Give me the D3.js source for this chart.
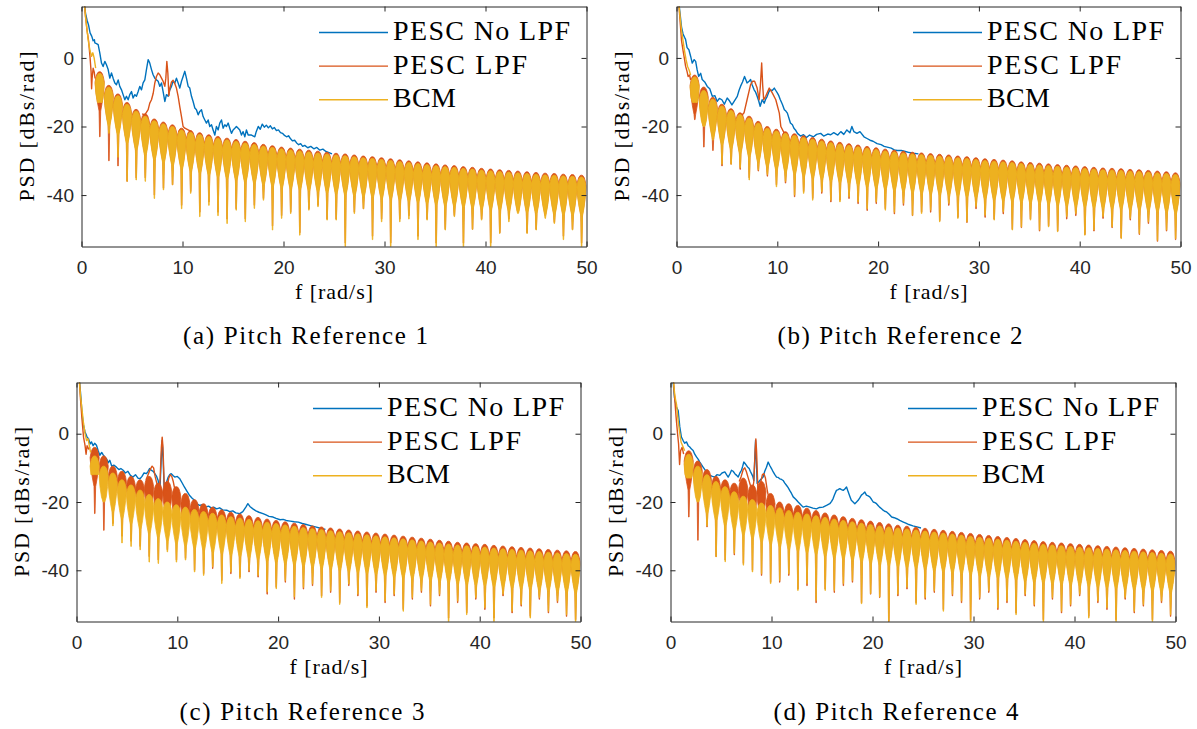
<!DOCTYPE html>
<html>
<head>
<meta charset="utf-8">
<script src="https://cdn.jsdelivr.net/npm/d3@7"></script>
<style>
  body { margin: 0; background: #fff; }
  svg { display: block; }
</style>
</head>
<body>
<svg id="chart" width="1197" height="729"></svg>
<script>
// ---------- axis ticks, names ----------
const FREQ_TICKS = [0, 10, 20, 30, 40, 50];
const PSD_TICKS = [-40, -20, 0];
const SERIES_NAMES = ["PESC No LPF", "PESC LPF", "BCM"];
const CAPTIONS = ["(a) Pitch Reference 1", "(b) Pitch Reference 2", "(c) Pitch Reference 3", "(d) Pitch Reference 4"];

// harmonic lines of the periodic pitch reference [rad/s]
const HARM = [0.9, 1.8, 2.7, 3.6, 4.5, 5.4, 6.3, 7.2, 8.1, 9.0, 9.9, 10.8, 11.7, 12.6, 13.5, 14.4, 15.3, 16.2, 17.1, 18.0,
  18.9, 19.8, 20.7, 21.6, 22.5, 23.4, 24.3, 25.2, 26.1, 27.0, 27.9, 28.8, 29.7, 30.6, 31.5, 32.4, 33.3, 34.2, 35.1, 36.0,
  36.9, 37.8, 38.7, 39.6, 40.5, 41.4, 42.3, 43.2, 44.1, 45.0, 45.9, 46.8, 47.7, 48.6, 49.5];

// ---------- (a) Pitch Reference 1 ----------
const blueA = [[0.25,17],[0.4,13],[0.55,11],[0.69,9.7],[0.85,7.3],[1.02,6.3],[1.15,5],[1.28,5.3],[1.32,4.4],[1.48,4.2],[1.65,3.9],[1.81,1.5],[1.98,-1.5],[2.14,-2.5],[2.31,-1.0],[2.47,-2.0],[2.64,-3.4],[2.80,-5.9],[2.97,-4.4],[3.13,-5.9],[3.30,-7.3],[3.46,-7.8],[3.63,-6.4],[3.79,-8.3],[3.96,-9.3],[4.12,-10.7],[4.29,-12.2],[4.45,-11.2],[4.62,-12.2],[4.78,-10.7],[4.95,-9.8],[5.11,-11.7],[5.28,-10.7],[5.44,-11.2],[5.61,-9.8],[5.77,-8.3],[5.94,-9.3],[6.10,-7.3],[6.27,-6.4],[6.43,-3.4],[6.60,-0.5],[6.76,-1.5],[6.93,-3.4],[7.09,-4.9],[7.26,-5.9],[7.42,-6.4],[7.59,-6.8],[7.75,-8.3],[7.92,-7.3],[8.08,-9.8],[8.25,-12.7],[8.41,-10.7],[8.58,-11.2],[8.74,-9.3],[8.91,-8.3],[9.07,-6.8],[9.24,-7.3],[9.40,-5.9],[9.57,-7.3],[9.73,-8.8],[9.90,-6.8],[10.06,-5.4],[10.23,-3.9],[10.39,-5.9],[10.56,-8.3],[10.72,-8.8],[10.89,-11.2],[11.05,-12.7],[11.22,-14.6],[11.38,-15.1],[11.55,-16.6],[11.71,-15.6],[11.88,-15.1],[12.04,-17.1],[12.21,-18.1],[12.37,-19.0],[12.54,-18.1],[12.70,-20.0],[12.87,-19.5],[13.03,-21.0],[13.20,-22.5],[13.36,-20.0],[13.53,-21.0],[13.69,-19.0],[13.86,-18.1],[14.02,-20.5],[14.19,-19.5],[14.35,-20.0],[14.52,-19.0],[14.68,-20.5],[14.85,-22.0],[15.01,-21.0],[15.18,-20.5],[15.34,-20.0],[15.51,-20.5],[15.67,-21.0],[15.84,-22.5],[16.00,-21.5],[16.17,-23.0],[16.33,-21.0],[16.50,-22.5],[16.83,-22.5],[17.16,-23.0],[17.3,-21.5],[17.5,-20],[17.7,-20.8],[17.9,-19.3],[18.1,-20.2],[18.3,-19.6],[18.5,-20.4],[18.7,-19.8],[18.9,-20.7],[19.1,-20.3],[19.3,-21.2],[19.5,-21],[19.7,-21.8],[19.9,-22],[20.1,-22.6],[20.3,-23],[20.5,-22.7],[20.7,-23.6],[20.9,-24.2],[21.1,-24],[21.3,-24.8],[21.5,-25.3],[21.7,-25],[21.9,-25.8],[22.1,-25.5],[22.4,-26.2],[22.7,-25.8],[23.0,-26.5],[23.3,-26.1],[23.6,-26.9],[23.9,-26.6],[24.2,-27.3],[24.5,-27.6],[24.8,-28]];
const redHeadA = [[0.25,17],[0.4,12],[0.55,8],[0.7,5],[0.85,0],[0.95,-4],[1.0,-9],[1.05,-6],[1.15,-3],[1.25,-4],[1.35,-6]];
const redLineA = [[6.0,-16.3],[6.27,-16.6],[6.6,-15.1],[6.76,-13.2],[6.93,-12.2],[7.1,-10.3],[7.26,-7.3],[7.42,-5.4],[7.59,-4.4],[7.75,-4.9],[7.92,-5.9],[8.08,-6.8],[8.25,-8.3],[8.35,-5.9],[8.45,-1],[8.55,-4.4],[8.65,-11],[8.74,-9],[8.91,-7],[9.07,-6.5],[9.24,-7.5],[9.4,-8.8],[9.57,-11.2],[9.73,-14.2],[9.9,-17.1],[10.06,-20],[10.23,-20.5],[10.56,-21],[10.9,-21.5]];
const redTopA = [null,-4,-8,-10.5,-13,-15,-16.3,-17.8,-18.7,-19.5,-20.5,-21.2,-21.8,-22.4,-22.9,-23.4,-23.8,-24.3,-24.7,-25.2,-25.6,-26,-26.3,-26.6,-26.9,-27.2,-27.5,-27.8,-28,-28.3,-28.6,-28.8,-29.1,-29.4,-29.7,-30,-30.3,-30.6,-30.9,-31.2,-31.4,-31.7,-31.9,-32.2,-32.4,-32.6,-32.8,-33,-33.2,-33.4,-33.6,-33.7,-33.9,-34,-34.2];
const redDipA = [null,-23,-30,-31.5,-36,-35,-35,-40,-38,-37,-43,-39,-45,-42,-45,-47,-44,-47,-43,-41,-49,-46,-45,-51,-44,-43,-47,-47,-54,-45,-44,-52,-47,-54,-47,-46,-52,-47,-54,-50,-46,-54,-50,-47,-54,-51,-47,-45,-51,-50,-46,-48,-52,-50,-54];
const bcmHeadA = [[0.25,17],[0.4,12],[0.55,8],[0.7,4.5],[0.85,2],[1.0,0.5],[1.12,1.5],[1.25,0],[1.4,-3]];
const bcmTopA = [null,-4.5,-8.5,-11,-13.5,-15.5,-17,-18.3,-19.2,-20,-21,-21.7,-22.3,-22.9,-23.4,-23.9,-24.3,-24.8,-25.2,-25.7,-26.1,-26.5,-26.8,-27.1,-27.4,-27.7,-28,-28.3,-28.5,-28.8,-29.1,-29.3,-29.6,-29.9,-30.2,-30.5,-30.8,-31.1,-31.4,-31.7,-31.9,-32.2,-32.4,-32.7,-32.9,-33.1,-33.3,-33.5,-33.7,-33.9,-34.1,-34.2,-34.4,-34.5,-34.7];
const bcmDipA = [null,-13,-22,-29,-36,-35.6,-36,-41,-38.5,-37,-44,-39.5,-46.3,-43,-46,-48.3,-44.4,-47.8,-43.9,-41.5,-50.2,-46.8,-45.4,-51.7,-44.4,-43.4,-47.3,-47.3,-56,-45.4,-44,-53,-47.8,-56,-47.8,-47,-53,-47.3,-56,-50.2,-46.3,-56,-50,-47.3,-56,-51.2,-47.8,-45.4,-51.2,-50.2,-46.8,-48.3,-53,-50.2,-56];

// ---------- (b) Pitch Reference 2 ----------
const blueB = [[0.2,17],[0.35,13],[0.5,9],[0.65,7],[0.8,6],[0.9,5.4],[1.05,3],[1.23,2.4],[1.4,0.5],[1.56,-1.5],[1.75,-0.5],[1.9,-1],[2.05,-3.5],[2.2,-5.4],[2.4,-4.5],[2.55,-6.3],[2.8,-7],[3.05,-8.3],[3.3,-9],[3.55,-11.2],[3.8,-11],[4.04,-12.7],[4.25,-11.8],[4.5,-12.2],[4.75,-13.5],[5.03,-11.7],[5.25,-12.5],[5.5,-13.7],[5.75,-12.5],[6.03,-11.2],[6.2,-9.5],[6.35,-8.3],[6.55,-7],[6.75,-5.4],[6.9,-6.5],[7.0,-7.3],[7.2,-6.8],[7.35,-6.3],[7.5,-7.8],[7.7,-9.3],[7.85,-10],[8.0,-11.2],[8.15,-12.5],[8.3,-14.1],[8.5,-12.2],[8.7,-13.2],[8.85,-12],[9.0,-11.2],[9.15,-10],[9.3,-9.3],[9.5,-9.5],[9.7,-8.8],[9.85,-9.5],[10.0,-10.2],[10.15,-11],[10.3,-12.2],[10.5,-13.5],[10.7,-15.1],[10.85,-15.5],[11.0,-16.1],[11.15,-17.5],[11.3,-19],[11.5,-19.5],[11.65,-20.5],[11.8,-21],[12.0,-22],[12.3,-22.8],[12.6,-22.4],[12.9,-23.2],[13.2,-22.5],[13.6,-23],[13.9,-22.3],[14.3,-22],[14.6,-22.8],[15.0,-22.2],[15.3,-22.4],[15.6,-21.8],[16.0,-22.5],[16.3,-21.5],[16.6,-22.3],[16.9,-21],[17.2,-21.8],[17.4,-20],[17.6,-21.5],[17.9,-22],[18.2,-21.5],[18.6,-23],[18.9,-23.5],[19.2,-24],[19.5,-24.3],[19.9,-25],[20.3,-25.3],[20.6,-25.8],[20.9,-26],[21.3,-26.3],[21.6,-26.8],[21.9,-27],[22.3,-27],[22.7,-27.3],[23.1,-27.6],[23.5,-27.8],[24,-28]];
const redHeadB = [[0.2,17],[0.35,11],[0.5,5],[0.66,2],[0.8,-0.5],[0.9,-2.4],[1.05,-4],[1.15,-5.4],[1.3,-5],[1.4,-6.5]];
const redLineB = [[6.4,-17],[6.7,-16],[7.0,-12.2],[7.35,-7.8],[7.55,-6.8],[7.75,-6.8],[8.0,-8.8],[8.2,-12.2],[8.3,-9],[8.45,-1.5],[8.55,-8],[8.65,-12.2],[8.85,-11.2],[9.2,-8.8],[9.5,-10.2],[9.85,-12.2],[10.2,-16.1],[10.35,-20],[10.7,-22]];
const redTopB = [null,-5,-8.5,-11.5,-13.5,-14.8,-16,-17,-18.5,-20,-20.8,-21.5,-22.1,-22.7,-23.2,-23.7,-24.2,-24.6,-25,-25.4,-25.8,-26.2,-26.6,-26.9,-27.2,-27.5,-27.7,-27.9,-28.1,-28.3,-28.6,-28.8,-29.1,-29.4,-29.6,-29.8,-30,-30.3,-30.5,-30.7,-30.9,-31.1,-31.3,-31.5,-31.7,-31.9,-32.1,-32.2,-32.3,-32.5,-32.6,-32.8,-33,-33.2,-33.5];
const redDipB = [null,-18,-26,-27,-31.5,-31,-32.5,-35,-33,-34.5,-37,-36.5,-40.5,-39,-41,-39.5,-42,-41.5,-41,-42.5,-44.5,-42.5,-44,-45.5,-43,-46,-45,-45,-47.5,-43,-46.5,-48,-44,-46.5,-47,-45.5,-50,-49.5,-47,-50.5,-49,-50.5,-47,-46,-51.5,-50.5,-46.8,-49.5,-52.5,-47.3,-51.5,-48.3,-53.5,-50.5,-53];
const bcmHeadB = [[0.2,17],[0.35,12],[0.5,8],[0.65,5],[0.8,2],[0.95,-0.5],[1.1,-2.5],[1.25,-3.5],[1.4,-5]];
const bcmTopB = [null,-5.5,-9.5,-12,-14,-15.3,-16.5,-17.5,-19,-20.5,-21.3,-22,-22.6,-23.2,-23.7,-24.2,-24.7,-25.1,-25.5,-25.9,-26.3,-26.7,-27.1,-27.4,-27.7,-28,-28.2,-28.4,-28.6,-28.8,-29.1,-29.3,-29.6,-29.9,-30.1,-30.3,-30.5,-30.8,-31,-31.2,-31.4,-31.6,-31.8,-32,-32.2,-32.4,-32.6,-32.7,-32.8,-33,-33.1,-33.3,-33.5,-33.7,-34];
const bcmDipB = [null,-13,-20,-24,-31,-31,-32,-35.6,-32.7,-34,-37.6,-36,-40,-39.5,-41.5,-39,-41.5,-42,-40.5,-42,-44,-42,-44.4,-45,-42.4,-45.9,-45.4,-44.4,-47.8,-42.4,-46.8,-47.8,-43.4,-45.9,-47.3,-44.9,-50.2,-49.3,-47.3,-50.2,-49.3,-50.7,-46.3,-45.4,-51.7,-50.2,-46.3,-49.3,-52.7,-46.8,-51.2,-47.8,-53.2,-50.2,-52.7];

// ---------- (c) Pitch Reference 3 ----------
const blueC = [[0.25,17],[0.4,12],[0.55,6],[0.66,2.9],[0.85,0.5],[1.05,-1],[1.2,-1.5],[1.35,-3],[1.48,-2.4],[1.65,-3.5],[1.8,-2.8],[1.98,-3.4],[2.15,-5],[2.31,-6.3],[2.5,-5.5],[2.65,-6.2],[2.8,-6.8],[3.0,-7.5],[3.15,-8.5],[3.3,-7.8],[3.5,-9.5],[3.7,-9.2],[3.96,-9.8],[4.2,-10.5],[4.4,-10.2],[4.63,-10.7],[4.85,-11.5],[5.1,-11],[5.35,-12.2],[5.6,-12.7],[5.85,-12],[6.1,-13],[6.3,-13.2],[6.5,-12.5],[6.7,-11.5],[6.94,-11.7],[7.1,-11],[7.25,-10.2],[7.4,-10.7],[7.6,-11],[7.77,-11.7],[7.95,-12.5],[8.1,-13.7],[8.26,-17.6],[8.4,-8],[8.5,-2],[8.6,-8],[8.7,-16.6],[8.9,-14.5],[9.1,-12.7],[9.25,-12],[9.4,-11.7],[9.6,-12.3],[9.75,-12.7],[10.0,-12.5],[10.25,-13.2],[10.5,-14.5],[10.7,-15.6],[10.95,-16.8],[11.2,-18],[11.45,-18.8],[11.7,-19.5],[11.95,-20.5],[12.2,-21],[12.5,-20.8],[12.8,-21.5],[13.1,-21.2],[13.4,-21.8],[13.6,-21.5],[13.9,-22],[14.2,-21.7],[14.5,-22.3],[14.9,-22.4],[15.2,-22.8],[15.5,-22.6],[15.8,-23.2],[16.2,-23.4],[16.5,-22.8],[16.8,-21.5],[17.0,-20.5],[17.2,-21.3],[17.5,-22],[17.8,-22.6],[18.1,-23],[18.5,-23.4],[18.8,-23.8],[19.1,-24.2],[19.5,-24.4],[19.8,-24.8],[20.2,-25.2],[20.5,-25.1],[20.8,-25.4],[21.2,-25.6],[21.6,-25.8],[22.0,-25.9],[22.4,-26.3],[22.8,-26.6],[23.2,-26.9],[23.7,-27.3],[24.2,-27.7],[24.7,-28]];
const redHeadC = [[0.25,17],[0.4,10],[0.55,4],[0.7,-1],[0.85,-3.5],[0.95,-6],[1.05,-3.5],[1.2,-4.5],[1.35,-4]];
const redLineC = [[6.9,-13.5],[7.1,-12],[7.3,-10.5],[7.5,-9.5],[7.65,-10],[7.8,-12.5],[8.0,-15],[8.15,-18],[8.3,-13],[8.42,-4],[8.5,-1],[8.58,-4],[8.7,-15],[8.85,-18],[9.0,-16],[9.15,-13],[9.3,-12],[9.45,-12.5],[9.6,-14],[9.8,-17],[10.0,-18.5],[10.3,-19]];
const redTopC = [null,-4,-6.5,-9.5,-11,-12.5,-13.5,-12.5,-14.5,-14,-15.5,-17.5,-19.3,-20.5,-21.5,-22.3,-23,-23.5,-24,-24.5,-25,-25.4,-25.8,-26.2,-26.6,-27,-27.3,-27.6,-27.9,-28.2,-28.5,-28.8,-29.1,-29.4,-29.7,-30,-30.3,-30.6,-30.9,-31.2,-31.5,-31.8,-32,-32.2,-32.4,-32.7,-32.9,-33.1,-33.3,-33.5,-33.7,-33.9,-34.1,-34.3,-34.5];
const redDipC = [null,-23.4,-28.3,-26.3,-30,-31.5,-33,-36,-37,-34,-37,-36.5,-40,-41,-39.5,-43,-41,-42,-40.5,-42,-47,-45,-43.5,-48.5,-45.5,-44.5,-47.5,-46.5,-49.5,-44.5,-47.5,-50.5,-46.5,-49.5,-47.5,-51.5,-48.5,-46.5,-50.5,-47.5,-54,-49.5,-52.5,-48.5,-51.5,-54,-47.5,-52.5,-50.5,-53.5,-48.5,-52.5,-49.5,-53.5,-54.5];
const bcmHeadC = [[0.25,17],[0.4,11],[0.55,7],[0.7,3],[0.85,0],[1.0,-2],[1.15,-1.5],[1.3,-4],[1.4,-5.5]];
const bcmTopC = [null,-6.5,-9.5,-11.5,-13.5,-15,-16.5,-17.8,-19,-20,-20.8,-21.5,-22.2,-22.8,-23.3,-23.8,-24.3,-24.7,-25.1,-25.5,-25.9,-26.3,-26.7,-27.1,-27.5,-27.8,-28.1,-28.4,-28.7,-29,-29.3,-29.6,-29.9,-30.2,-30.5,-30.8,-31.1,-31.4,-31.7,-32,-32.3,-32.6,-32.8,-33,-33.2,-33.5,-33.7,-33.9,-34.1,-34.3,-34.5,-34.7,-34.9,-35.1,-35.3];
const bcmDipC = [null,-12,-20,-27,-32,-33,-34,-37.6,-38,-34.6,-37.6,-37,-40.5,-41.5,-39,-43.9,-40.5,-42.4,-40,-41.5,-46.3,-45.4,-43,-47.8,-45,-44,-48,-46,-50,-44,-47,-51,-46,-49,-47,-52,-48,-46,-50,-47,-56,-49,-53,-48,-51,-56,-47,-52,-50,-54,-48,-52,-49,-53,-56];

// ---------- (d) Pitch Reference 4 ----------
const blueD = [[0.2,17],[0.4,10.5],[0.59,7.8],[0.76,6.8],[0.92,2],[1.08,-1],[1.25,-2],[1.4,-2.8],[1.58,-2.4],[1.75,-3.5],[1.91,-3.9],[2.08,-4.5],[2.24,-4.9],[2.4,-6],[2.57,-6.8],[2.75,-7.5],[2.9,-8.3],[3.05,-9],[3.23,-9.8],[3.4,-10.5],[3.56,-11.2],[3.72,-11.8],[3.9,-12.2],[4.15,-12.5],[4.39,-12.7],[4.6,-12],[4.88,-12.2],[5.1,-11.5],[5.38,-11.2],[5.55,-12],[5.71,-12.7],[5.88,-11.8],[6.04,-10.7],[6.2,-11],[6.37,-11.7],[6.55,-12.2],[6.7,-12.7],[6.87,-11.5],[7.03,-10.7],[7.15,-9.5],[7.26,-8.3],[7.4,-8.8],[7.52,-9.3],[7.65,-9.8],[7.79,-10.2],[7.9,-11],[8.02,-11.7],[8.15,-12.5],[8.25,-13.7],[8.35,-7],[8.42,-2],[8.5,-8],[8.58,-14.6],[8.7,-14.2],[8.84,-13.7],[9.0,-13.2],[9.17,-12.7],[9.33,-11],[9.5,-9.8],[9.67,-8.3],[9.83,-9.3],[10.0,-10.2],[10.17,-11.2],[10.33,-12],[10.5,-12.7],[10.66,-12.8],[10.82,-13.2],[11.0,-13.4],[11.15,-13.7],[11.3,-14.4],[11.48,-15.1],[11.65,-15.8],[11.8,-16.6],[11.98,-17.5],[12.15,-18.5],[12.4,-19.2],[12.64,-20],[12.9,-20.8],[13.13,-21.5],[13.45,-21.2],[13.8,-21.5],[14.1,-21.8],[14.45,-22],[14.75,-21.6],[15.1,-21.5],[15.45,-21],[15.77,-20.5],[15.95,-19.8],[16.1,-19],[16.25,-17.8],[16.43,-16.6],[16.6,-16.4],[16.76,-16.1],[16.93,-16.4],[17.1,-16.6],[17.26,-16.2],[17.43,-15.6],[17.6,-17.1],[17.75,-18.3],[17.9,-19.5],[18.08,-20],[18.25,-20.5],[18.42,-20],[18.58,-19.5],[18.74,-18.8],[18.9,-18],[19.07,-17.6],[19.24,-17.1],[19.4,-18],[19.57,-18.2],[19.73,-18.5],[19.9,-19.2],[20.07,-20],[20.24,-20.2],[20.4,-20.5],[20.55,-21],[20.7,-21.5],[20.9,-22],[21.05,-22.4],[21.2,-22.7],[21.4,-22.9],[21.65,-23.6],[21.9,-24.4],[22.15,-24.6],[22.4,-24.9],[22.7,-25.4],[23.0,-25.8],[23.3,-26.2],[23.6,-26.6],[24.0,-27],[24.4,-27.3],[24.8,-27.6]];
const redHeadD = [[0.25,17],[0.4,11],[0.55,5],[0.7,0],[0.8,-3],[0.9,-9],[1.0,-5],[1.15,-4],[1.3,-6]];
const redLineD = [[6.8,-14],[7.0,-12.5],[7.2,-10.5],[7.35,-10],[7.5,-11],[7.7,-13],[7.9,-15],[8.1,-17],[8.25,-14],[8.38,-5],[8.45,-1.5],[8.52,-5],[8.65,-16],[8.8,-18],[8.95,-14],[9.1,-12],[9.25,-11.7],[9.4,-13],[9.6,-17],[9.8,-19.5],[10.0,-20]];
const redTopD = [null,-5,-8,-10.5,-12.5,-13.5,-14.5,-13,-15,-14,-17.5,-20,-20.5,-21,-21.8,-22.5,-23.2,-23.8,-24.3,-24.8,-25.2,-25.6,-26,-26.4,-26.8,-27.1,-27.4,-27.7,-28,-28.3,-28.6,-28.9,-29.2,-29.5,-29.8,-30.1,-30.4,-30.7,-31,-31.3,-31.6,-31.8,-32,-32.2,-32.4,-32.6,-32.8,-33,-33.2,-33.4,-33.6,-33.8,-34,-34.2,-34.4];
const redDipD = [null,-24.4,-31.2,-27.3,-36,-37,-35.5,-38,-40,-41.5,-43.5,-43.5,-41.5,-45.5,-44.5,-49.5,-45.5,-46.5,-44.5,-43.5,-49.5,-47,-48,-56,-47.5,-45.5,-49.5,-48.5,-46.5,-51.5,-47.5,-49.5,-54.5,-48.5,-46.5,-51.5,-49.5,-52.5,-47.5,-50.5,-54.5,-48.5,-52.5,-50.5,-47.5,-53.5,-49.5,-51.5,-54.5,-48.5,-52.5,-50.5,-54.5,-49.5,-53.5];
const bcmHeadD = [[0.25,17],[0.4,12],[0.5,10],[0.6,8.5],[0.75,4],[0.9,0.5],[1.05,-2.5],[1.2,-3.5],[1.4,-5]];
const bcmTopD = [null,-6,-9.5,-12,-14,-15.5,-17,-18.3,-19.3,-20.3,-21,-21.7,-22.5,-23,-23.5,-24,-24.5,-25,-25.4,-25.8,-26.2,-26.6,-27,-27.3,-27.6,-27.9,-28.2,-28.5,-28.8,-29.1,-29.4,-29.7,-30,-30.3,-30.6,-30.9,-31.2,-31.5,-31.8,-32.1,-32.4,-32.6,-32.8,-33,-33.2,-33.4,-33.6,-33.8,-34,-34.2,-34.4,-34.6,-34.8,-35,-35.2];
const bcmDipD = [null,-13,-20,-27,-36,-37.5,-35,-38.5,-40.5,-41,-43.9,-43,-41,-45.9,-43.9,-48.8,-45.9,-45.9,-43.9,-43,-49.8,-46.8,-47.8,-56,-47,-45,-50,-48,-46,-52,-47,-49,-56,-48,-46,-51,-49,-53,-47,-50,-56,-48,-52,-50,-47,-54,-49,-51,-56,-48,-52,-50,-56,-49,-53];

// ---------- styling & layout ----------
const COLORS = { blue: "#0072BD", red: "#D95319", yellow: "#EDB120" };
const AXIS_COLOR = "#262626";
const SERIF = "'Liberation Serif', 'Times New Roman', serif";
const SANS = "'Liberation Sans', Arial, Helvetica, sans-serif";

const LAYOUT = [
  { x0: 81.5,  x1: 586.5,  top: 6.5,   bottom: 246.5, capX: 305.5, capY: 344 },
  { x0: 676.5, x1: 1180.5, top: 6.5,   bottom: 246.5, capX: 900,   capY: 344 },
  { x0: 76.5,  x1: 580.5,  top: 382.5, bottom: 621.5, capX: 302,   capY: 720 },
  { x0: 670.5, x1: 1175.5, top: 382.5, bottom: 621.5, capX: 896,   capY: 720 }
];

const PANELS = [
  { blue: blueA, redHead: redHeadA, redLine: redLineA, redTop: redTopA, redDip: redDipA, bcmHead: bcmHeadA, bcmTop: bcmTopA, bcmDip: bcmDipA },
  { blue: blueB, redHead: redHeadB, redLine: redLineB, redTop: redTopB, redDip: redDipB, bcmHead: bcmHeadB, bcmTop: bcmTopB, bcmDip: bcmDipB },
  { blue: blueC, redHead: redHeadC, redLine: redLineC, redTop: redTopC, redDip: redDipC, bcmHead: bcmHeadC, bcmTop: bcmTopC, bcmDip: bcmDipC },
  { blue: blueD, redHead: redHeadD, redLine: redLineD, redTop: redTopD, redDip: redDipD, bcmHead: bcmHeadD, bcmTop: bcmTopD, bcmDip: bcmDipD }
];

const svg = d3.select("#chart");

// One lobe of the comb spectrum around a harmonic: rounded crest at `top`,
// a dense body a few dB deep, then a narrow notch down to `dip`.
function lobeOutline(fc, top, dip) {
  const depth = top - dip;
  const d = v => Math.min(v, depth);
  return [
    [fc - 0.45, top - 3.0], [fc - 0.38, top - 1.8], [fc - 0.27, top - 0.7], [fc - 0.13, top - 0.1], [fc, top],
    [fc + 0.13, top - 0.1], [fc + 0.27, top - 0.7], [fc + 0.38, top - 1.8], [fc + 0.45, top - 3.0],
    [fc + 0.38, top - d(6)], [fc + 0.25, top - d(9)], [fc + 0.1, top - d(11.5)], [fc + 0.04, dip], [fc - 0.01, dip],
    [fc - 0.06, top - d(11.5)], [fc - 0.22, top - d(9)], [fc - 0.37, top - d(6)]
  ];
}

function drawComb(g, x, y, tops, dips, color) {
  const poly = d3.line().x(p => x(p[0])).y(p => y(p[1]));
  const d = HARM.map((fc, i) => {
    if (tops[i] == null || dips[i] == null) return "";
    return poly(lobeOutline(fc, tops[i], dips[i])) + "Z";
  }).join("");
  g.append("path")
    .attr("d", d)
    .attr("fill", color)
    .attr("stroke", color)
    .attr("stroke-width", 0.8)
    .attr("stroke-linejoin", "round");
}

function drawTrace(g, line, pts, color) {
  g.append("path")
    .attr("d", line(pts))
    .attr("fill", "none")
    .attr("stroke", color)
    .attr("stroke-width", 1.4)
    .attr("stroke-linejoin", "round");
}

// serif label fitted to a given width by letter spacing
function serifText(sel, str, size, width) {
  return sel.attr("textLength", width).attr("lengthAdjust", "spacing")
    .style("font-family", SERIF).style("font-size", size + "px").attr("fill", "#000")
    .text(str);
}

function drawPanel(L, D, caption, idx) {
  const x = d3.scaleLinear().domain([0, 50]).range([L.x0, L.x1]);
  const y = d3.scaleLinear().domain([-55, 15]).range([L.bottom, L.top]);
  const line = d3.line().x(p => x(p[0])).y(p => y(p[1]));

  const clipId = "plot-clip-" + idx;
  svg.append("clipPath").attr("id", clipId)
    .append("rect")
    .attr("x", L.x0).attr("y", L.top)
    .attr("width", L.x1 - L.x0).attr("height", L.bottom - L.top);

  const plot = svg.append("g").attr("clip-path", `url(#${clipId})`);

  // PESC No LPF
  drawTrace(plot, line, D.blue, COLORS.blue);
  // PESC LPF
  drawComb(plot, x, y, D.redTop, D.redDip, COLORS.red);
  drawTrace(plot, line, D.redHead, COLORS.red);
  drawTrace(plot, line, D.redLine, COLORS.red);
  // BCM
  drawComb(plot, x, y, D.bcmTop, D.bcmDip, COLORS.yellow);
  drawTrace(plot, line, D.bcmHead, COLORS.yellow);

  // axes with inward ticks on all four sides
  const fmt = v => String(v);
  const axes = svg.append("g");
  axes.append("g").attr("transform", `translate(0,${L.bottom})`)
    .call(d3.axisBottom(x).tickValues(FREQ_TICKS).tickSizeInner(-5).tickSizeOuter(0).tickPadding(14).tickFormat(fmt));
  axes.append("g").attr("transform", `translate(0,${L.top})`)
    .call(d3.axisTop(x).tickValues(FREQ_TICKS).tickSizeInner(-5).tickSizeOuter(0).tickFormat(""));
  axes.append("g").attr("transform", `translate(${L.x0},0)`)
    .call(d3.axisLeft(y).tickValues(PSD_TICKS).tickSizeInner(-5).tickSizeOuter(0).tickPadding(7.5).tickFormat(fmt));
  axes.append("g").attr("transform", `translate(${L.x1},0)`)
    .call(d3.axisRight(y).tickValues(PSD_TICKS).tickSizeInner(-5).tickSizeOuter(0).tickFormat(""));
  axes.selectAll(".domain").attr("stroke", AXIS_COLOR).attr("stroke-width", 1);
  axes.selectAll(".tick line").attr("stroke", AXIS_COLOR).attr("stroke-width", 1);
  axes.selectAll(".tick text")
    .attr("fill", AXIS_COLOR)
    .style("font-family", SANS)
    .style("font-size", "19px");

  // axis titles
  serifText(svg.append("text")
    .attr("x", (L.x0 + L.x1) / 2).attr("y", L.bottom + 52)
    .attr("text-anchor", "middle"), "f [rad/s]", 22, 78);
  serifText(svg.append("text")
    .attr("transform", `translate(${L.x0 - 48},${(L.top + L.bottom) / 2}) rotate(-90)`)
    .attr("text-anchor", "middle"), "PSD [dBs/rad]", 22, 150);

  // legend
  const legendColors = [COLORS.blue, COLORS.red, COLORS.yellow];
  const legendWidths = [177, 134, 63];
  const lg = svg.append("g");
  SERIES_NAMES.forEach((name, i) => {
    const ly = L.top + 26 + i * 33.6;
    lg.append("line")
      .attr("x1", L.x1 - 267.5).attr("x2", L.x1 - 198.5)
      .attr("y1", ly).attr("y2", ly)
      .attr("stroke", legendColors[i]).attr("stroke-width", 1.4);
    serifText(lg.append("text").attr("x", L.x1 - 193.5).attr("y", ly + 7.5), name, 28, legendWidths[i]);
  });

  // sub-figure caption
  serifText(svg.append("text")
    .attr("x", L.capX).attr("y", L.capY)
    .attr("text-anchor", "middle"), caption, 25, 245);
}

LAYOUT.forEach((L, i) => drawPanel(L, PANELS[i], CAPTIONS[i], i));
</script>
</body>
</html>
